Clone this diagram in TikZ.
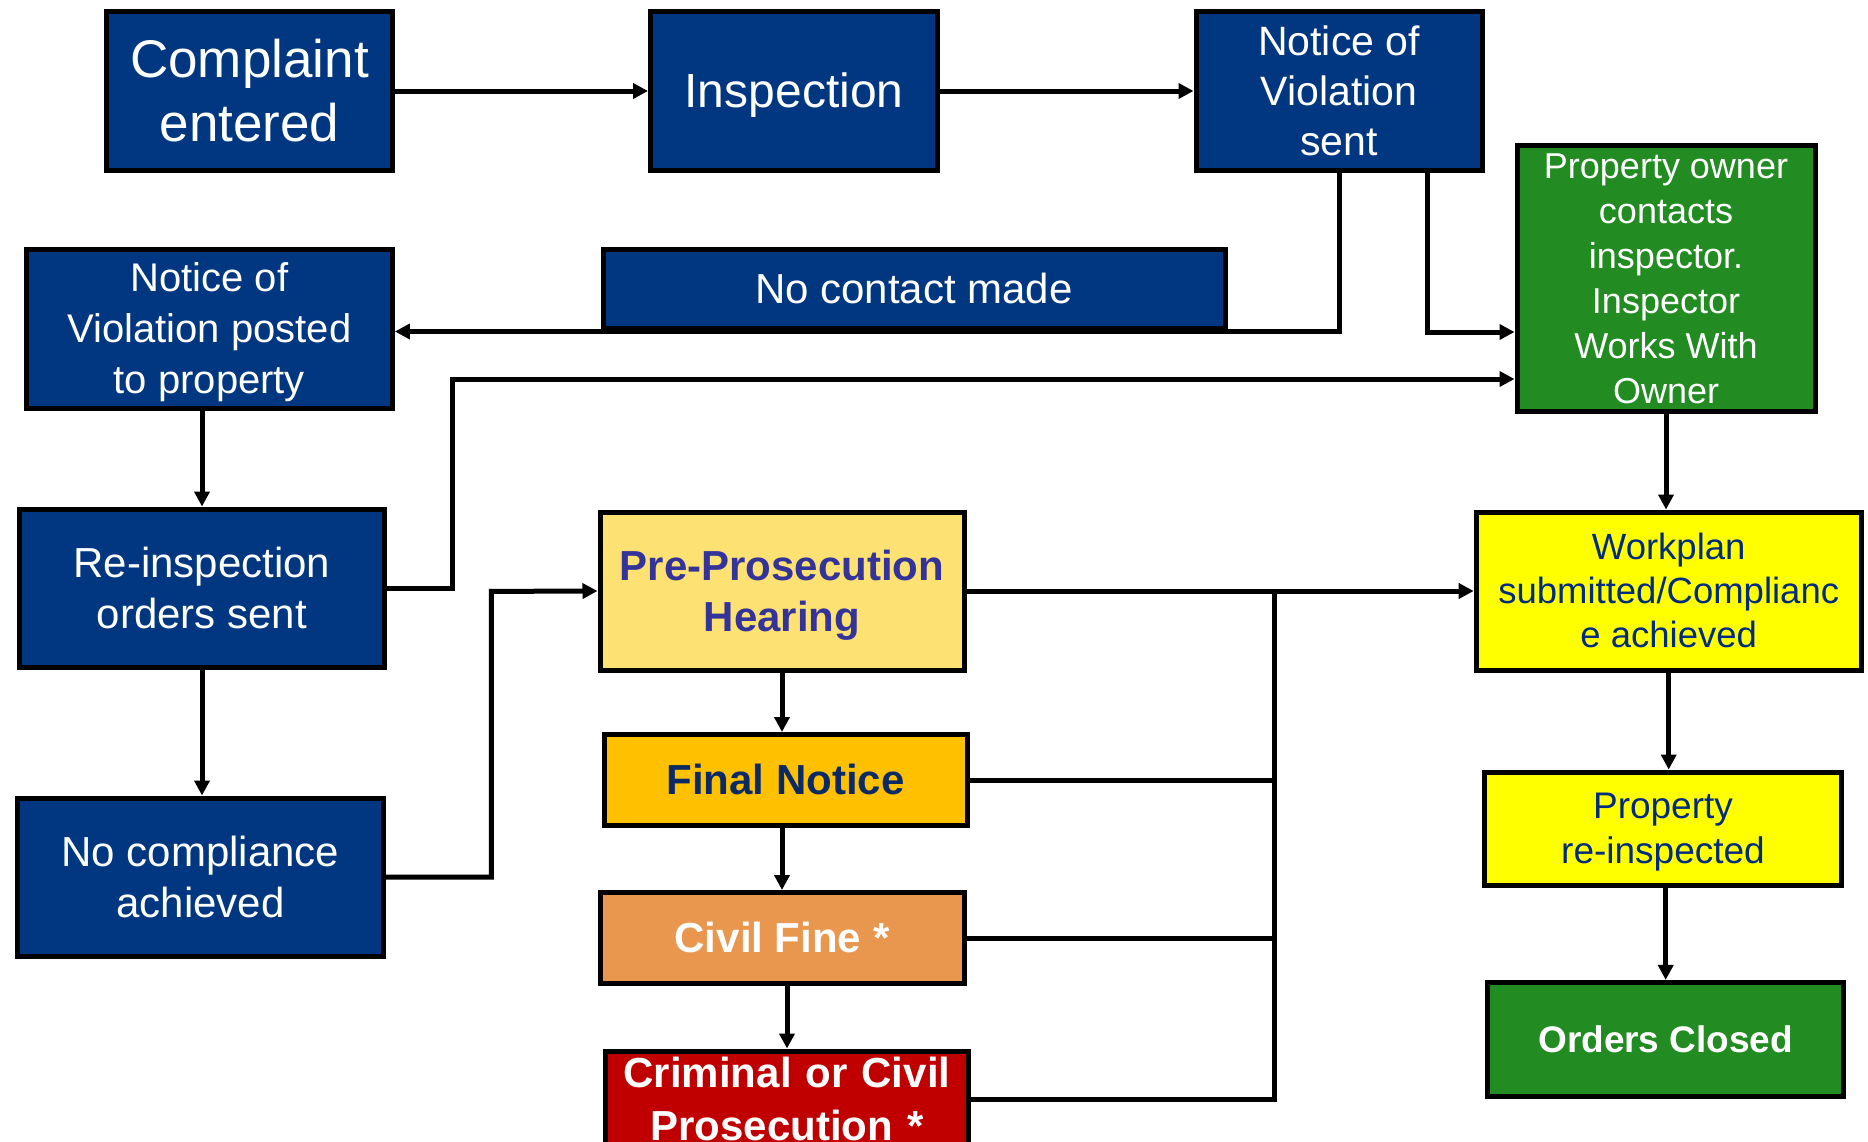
\documentclass[tikz,border=0pt]{standalone}
\usepackage{fontspec}
\setmainfont{Liberation Sans}
\usetikzlibrary{arrows.meta}
\definecolor{navybox}{HTML}{003780}
\definecolor{greenbox}{HTML}{228B22}
\definecolor{prefill}{HTML}{FDE273}
\definecolor{pretext}{HTML}{333399}
\definecolor{finfill}{HTML}{FFC000}
\definecolor{fintext}{HTML}{0A2A66}
\definecolor{civfill}{HTML}{E9964F}
\definecolor{crimfill}{HTML}{C00000}
\definecolor{yellowbox}{HTML}{FFFF00}
\definecolor{worktext}{HTML}{002B7F}
\newcommand{\lstrut}{\rule[-0.212em]{0pt}{1.117em}}
\tikzset{
  box/.style={draw=black, line width=5pt, inner sep=0pt, align=center},
  bluebox/.style={box, fill=navybox, text=white},
  conn/.style={draw=black, line width=5pt, line join=miter},
  arr/.style={conn, -{Triangle[length=15pt,width=15pt]}},
}
\newcommand{\fs}[2]{\fontsize{#1}{#2}\selectfont}
\begin{document}
\begin{tikzpicture}[x=1pt,y=-1pt]
\useasboundingbox (0,0) rectangle (1868,1141);
% top row
\node[bluebox, minimum width=286pt, minimum height=159pt, font=\fs{53}{64}] (comp) at (249.5,91) {\lstrut Complaint\\entered\lstrut};
\node[bluebox, minimum width=287pt, minimum height=159pt, font=\fs{48}{58}] (insp) at (794,91) {\lstrut Inspection\lstrut};
\node[bluebox, minimum width=286pt, minimum height=159pt, font=\fs{41}{50}] (novs) at (1339,91) {\lstrut Notice of\\Violation\\sent\lstrut};
\node[box, fill=greenbox, text=white, minimum width=298pt, minimum height=266pt, font=\fs{36}{45}] (own) at (1666,278.5) {\lstrut Property owner\\contacts\\inspector.\\Inspector\\Works With\\Owner\lstrut};
% second row
\node[bluebox, minimum width=366pt, minimum height=159pt, font=\fs{40}{51}] (novp) at (209.4,329) {\lstrut Notice of\\Violation posted\\to property\lstrut};
\node[bluebox, minimum width=622pt, minimum height=79pt, font=\fs{42}{51}] (noc) at (914,289) {\lstrut No contact made\lstrut};
% left column
\node[bluebox, minimum width=365pt, minimum height=158pt, font=\fs{42}{51}] (reins) at (202,588) {\lstrut Re-inspection\\orders sent\lstrut};
\node[bluebox, minimum width=366pt, minimum height=158pt, font=\fs{42}{51}] (nocomp) at (200.5,877) {\lstrut No compliance\\achieved\lstrut};
% middle column
\node[box, fill=prefill, text=pretext, minimum width=364pt, minimum height=158pt, font=\bfseries\fs{42}{51}] (pre) at (782,591) {\lstrut Pre-Prosecution\\Hearing\lstrut};
\node[box, fill=finfill, text=fintext, minimum width=363pt, minimum height=91pt, font=\bfseries\fs{42}{51}] (fin) at (785.6,780) {\lstrut Final Notice\lstrut};
\node[box, fill=civfill, text=white, minimum width=364pt, minimum height=91pt, font=\bfseries\fs{42}{51}] (civ) at (782,938) {\lstrut Civil Fine *\lstrut};
\node[box, fill=crimfill, text=white, text width=363pt, inner ysep=6.5pt, anchor=north, font=\bfseries\fs{42}{53}] (crim) at (787,1048.5) {Criminal or Civil\\Prosecution *};
% right column
\node[box, fill=yellowbox, text=worktext, minimum width=385pt, minimum height=158pt, font=\fs{36.5}{44}] (work) at (1668.7,591) {\lstrut Workplan\\submitted/Complianc\\e achieved\lstrut};
\node[box, fill=yellowbox, text=worktext, minimum width=357pt, minimum height=113pt, font=\fs{37}{45}] (prop) at (1663,828.5) {\lstrut Property\\re-inspected\lstrut};
\node[box, fill=greenbox, text=white, minimum width=356pt, minimum height=114pt, font=\bfseries\fs{37}{45}] (closed) at (1665.7,1039.4) {\lstrut Orders Closed\lstrut};
% connectors
\draw[arr] (comp) -- (insp);
\draw[arr] (insp) -- (novs);
\coordinate (a1) at (1339,331.5);
\draw[arr] (novs.south) -- (a1) -- (novp.east |- a1);
\coordinate (a2) at (1427,332);
\draw[arr] (novs.south -| a2) -- (a2) -- (own.west |- a2);
\coordinate (a3) at (452.6,379);
\draw[arr] (reins.east) -| (a3) -- (own.west |- a3);
\draw[arr] (novp.south -| reins.north) -- (reins.north);
\draw[arr] (reins.south) -- (reins.south |- nocomp.north);
\coordinate (a4) at (491.4,591.4);
\draw[arr] (nocomp.east) -| (a4) -- (pre.west);
\draw[arr] (pre.south) -- (pre.south |- fin.north);
\draw[arr] (fin.south -| pre.south) -- (pre.south |- civ.north);
\draw[arr] (civ.south -| crim.north) -- (crim.north);
\draw[arr] (pre.east) -- (work.west);
\coordinate (jx) at (1274.7,591.4);
\draw[conn] (fin.east) -| (jx);
\draw[conn] (civ.east) -| (jx);
\draw[conn] (crim.east) -| (jx);
\draw[arr] (own.south) -- (own.south |- work.north);
\draw[arr] (work.south) -- (work.south |- prop.north);
\draw[arr] (prop.south -| closed.north) -- (closed.north);
\end{tikzpicture}
\end{document}
